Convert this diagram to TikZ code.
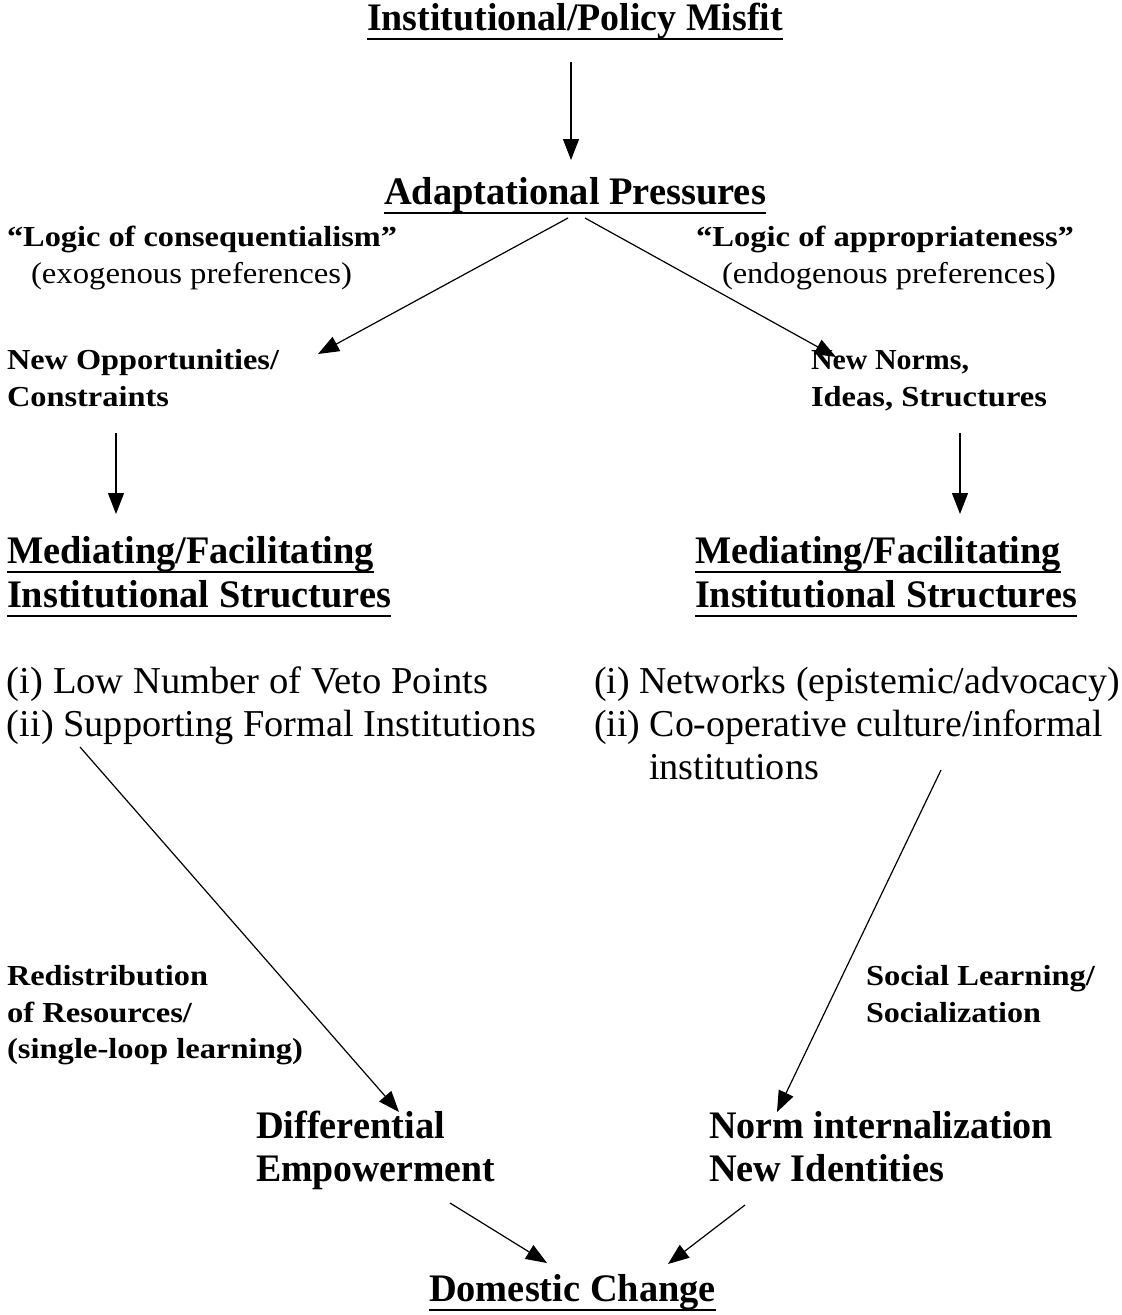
\documentclass[tikz,border=0pt]{standalone}
\usepackage{fontspec}
\setmainfont{Liberation Serif}
\usepackage{graphicx}
\usetikzlibrary{arrows.meta}
\newcommand{\fitw}[2]{\resizebox{#1pt}{\height}{#2}}
\begin{document}
\begin{tikzpicture}[x=1pt,y=-1pt,
  txt/.style={anchor=base west, inner sep=0pt, outer sep=0pt},
  hd/.style={txt, font=\fontsize{39}{44}\selectfont\bfseries},
  big/.style={txt, font=\fontsize{38}{44}\selectfont},
  sm/.style={txt, font=\fontsize{29}{32}\selectfont\bfseries},
  smr/.style={txt, font=\fontsize{30}{32}\selectfont},
  arr/.style={line width=1.2pt, -{Triangle[width=16pt,length=21pt]}},
  uline/.style={line width=2.8pt}]
\useasboundingbox (0,0) rectangle (1122,1315);
\fill[white] (0,0) rectangle (1122,1315);

% headings
\node[hd] (misfit) at (367,30) {\fitw{416}{Institutional/Policy Misfit}};
\node[hd] (adapt) at (384,204) {\fitw{382}{Adaptational Pressures}};
\node[hd] (ml1) at (7,563) {\fitw{367}{Mediating/Facilitating}};
\node[hd] (ml2) at (7,607) {\fitw{384}{Institutional Structures}};
\node[hd] (mr1) at (695,563) {\fitw{366}{Mediating/Facilitating}};
\node[hd] (mr2) at (695,607) {\fitw{382}{Institutional Structures}};
\node[hd] (de1) at (256,1138) {\fitw{189}{Differential}};
\node[hd] (de2) at (256,1181) {\fitw{239}{Empowerment}};
\node[hd] (ni1) at (709,1138) {\fitw{344}{Norm internalization}};
\node[hd] (ni2) at (709,1181) {\fitw{235}{New Identities}};
\node[hd] (dc) at (429,1301) {\fitw{287}{Domestic Change}};

\foreach \n/\d in {misfit/9, adapt/9, ml1/9, ml2/9, mr1/9, mr2/9, dc/9}
  \draw[uline] ([yshift=-\d pt]\n.base west) -- ([yshift=-\d pt]\n.base east);

% logic labels
\node[sm] (lc1) at (7,246) {\fitw{390}{“Logic of consequentialism”}};
\node[smr] (lc2) at (31,283) {\fitw{321}{(exogenous preferences)}};
\node[sm] (la1) at (696,246) {\fitw{378}{“Logic of appropriateness”}};
\node[smr] (la2) at (722,283) {\fitw{334}{(endogenous preferences)}};

% second row
\node[sm] (no1) at (7,369) {\fitw{272}{New Opportunities/}};
\node[sm] (no2) at (7,406) {\fitw{162}{Constraints}};
\node[sm] (nn1) at (811,369) {\fitw{158}{New Norms,}};
\node[sm] (nn2) at (811,406) {\fitw{236}{Ideas, Structures}};

% lists
\node[big] (il1) at (7,693) {\fitw{481}{(i) Low Number of Veto Points}};
\node[big] (il2) at (7,736) {\fitw{529}{(ii) Supporting Formal Institutions}};
\node[big] (ir1) at (594,693) {\fitw{526}{(i) Networks (epistemic/advocacy)}};
\node[big] (ir2) at (594,736) {\fitw{509}{(ii) Co-operative culture/informal}};
\node[big] (ir3) at (649,779) {\fitw{170}{institutions}};

% mechanisms
\node[sm] (rd1) at (7,985) {\fitw{201}{Redistribution}};
\node[sm] (rd2) at (7,1022) {\fitw{185}{of Resources/}};
\node[sm] (rd3) at (7,1058) {\fitw{296}{(single-loop learning)}};
\node[sm] (sl1) at (866,985) {\fitw{229}{Social Learning/}};
\node[sm] (sl2) at (866,1022) {\fitw{175}{Socialization}};

% connector end points
\coordinate (a0s) at (571,62);   \coordinate (a0e) at (571,160);
\coordinate (a1s) at (568,218);  \coordinate (a1e) at (318,354);
\coordinate (a2s) at (585,218);  \coordinate (a2e) at (836,357);
\coordinate (a3s) at (116,433);  \coordinate (a3e) at (116,514);
\coordinate (a4s) at (960,433);  \coordinate (a4e) at (960,514);
\coordinate (a5s) at (80,747);   \coordinate (a5e) at (399,1112);
\coordinate (a6s) at (941,770);  \coordinate (a6e) at (777,1112);
\coordinate (a7s) at (450,1203); \coordinate (a7e) at (547,1263);
\coordinate (a8s) at (745,1205); \coordinate (a8e) at (668,1264);

\draw[arr] (a0s) -- (a0e);
\draw[arr] (a1s) -- (a1e);
\draw[arr] (a2s) -- (a2e);
\draw[arr] (a3s) -- (a3e);
\draw[arr] (a4s) -- (a4e);
\draw[arr] (a5s) -- (a5e);
\draw[arr] (a6s) -- (a6e);
\draw[arr] (a7s) -- (a7e);
\draw[arr] (a8s) -- (a8e);
\end{tikzpicture}
\end{document}
